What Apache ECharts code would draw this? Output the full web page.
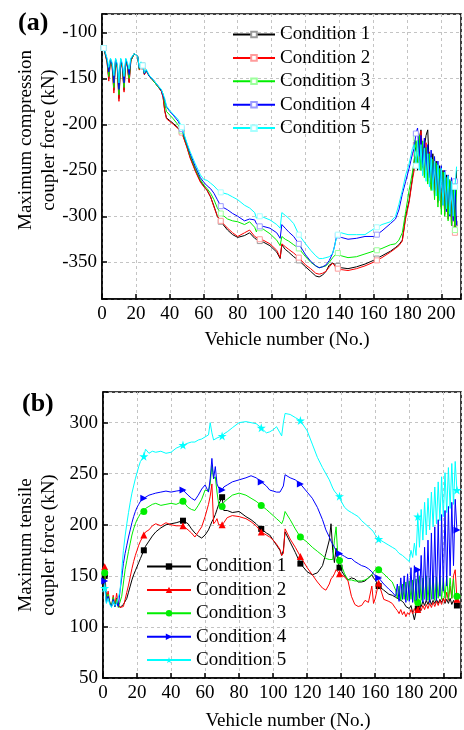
<!DOCTYPE html>
<html><head><meta charset="utf-8">
<script src="https://cdn.jsdelivr.net/npm/echarts@6/dist/echarts.min.js"></script>
<style>html,body{margin:0;padding:0;background:#fff}#c{width:464px;height:730px}</style>
</head><body><div id="c"></div>
<script>
const conditions = ['Condition 1','Condition 2','Condition 3','Condition 4','Condition 5'];
const xTicks = [0,20,40,60,80,100,120,140,160,180,200];
const yTicksA = [-350,-300,-250,-200,-150,-100];
const yTicksB = [50,100,150,200,250,300];
const markerVehicles = [1,24,47,70,93,116,139,162,185,208];

// Panel (a): maximum compression coupler force (kN)
const xA = [1,2,3,4,5,6,7,8,9,10,11,12,13,14,15,16,17,18,19,20,21,22,23,24,25,26,
28,30,33,35,36,37,38,40,42,45,47,
50,52,55,58,60,62,64,66,68,70,
74,77,80,84,87,90,91,92,93,95,
99,103,105,106,108,110,113,116,120,123,
126,128,130,132,134,136,137,138,139,141,
145,150,155,160,162,165,170,173,175,177,
179,181,183,
184,185,186,187,188,189,190,191,192,193,194,195,196,197,198,199,200,201,202,203,204,205,206,207,208,209];

const compC1 = [-117,-124,-132,-150,-130,-137,-163,-130,-138,-172,-131,-138,-163,-130,-137,-154,-131,-127,-123,-123,-126,-140,-133,-137,-146,-141,
-148,-152,-159,-164,-170,-185,-193,-196,-199,-204,-208,
-224,-236,-250,-262,-267,-272,-279,-289,-300,-306,
-315,-320,-323,-321,-318,-324,-325,-326,-327,-328,
-332,-339,-346,-331,-336,-339,-344,-348,-355,-360,
-365,-366,-364,-360,-353,-351,-352,-353,-354,-356,
-357,-355,-352,-348,-346,-343,-338,-334,-331,-326,
-300,-283,-258,
-240,-222,-250,-215,-206,-248,-225,-212,-206,-250,-265,-232,-270,-240,-280,-245,-290,-250,-292,-255,-298,-262,-300,-265,-308,-250];
const compC2 = [-117,-125,-133,-153,-130,-138,-166,-131,-139,-175,-132,-139,-165,-131,-138,-155,-131,-127,-123,-123,-126,-141,-133,-137,-146,-142,
-148,-152,-159,-164,-171,-186,-194,-197,-200,-205,-209,
-225,-237,-251,-263,-268,-272,-279,-290,-300,-305,
-313,-318,-322,-318,-315,-322,-323,-324,-325,-326,
-330,-337,-345,-330,-333,-336,-340,-345,-353,-357,
-362,-363,-362,-360,-355,-351,-353,-356,-357,-358,
-359,-357,-354,-350,-348,-345,-339,-335,-332,-327,
-302,-285,-260,
-250,-232,-215,-245,-207,-230,-255,-220,-262,-230,-270,-238,-278,-245,-285,-250,-292,-255,-298,-258,-303,-262,-310,-268,-318,-300];
const compC3 = [-117,-124,-131,-148,-129,-136,-160,-130,-137,-168,-130,-137,-160,-130,-136,-150,-130,-127,-123,-123,-126,-140,-133,-136,-145,-141,
-148,-152,-159,-163,-167,-178,-186,-190,-194,-201,-207,
-222,-234,-248,-260,-266,-270,-275,-282,-291,-297,
-303,-305,-306,-309,-306,-312,-317,-312,-313,-314,
-319,-326,-332,-322,-325,-327,-331,-335,-344,-350,
-354,-356,-355,-354,-350,-345,-343,-341,-340,-343,
-345,-344,-341,-338,-337,-335,-331,-330,-326,-318,
-295,-272,-252,
-240,-215,-246,-212,-250,-218,-258,-225,-265,-232,-272,-238,-282,-242,-290,-248,-298,-252,-300,-258,-305,-260,-310,-265,-315,-270];
const compC4 = [-117,-123,-130,-143,-129,-135,-155,-129,-136,-162,-129,-136,-155,-129,-135,-146,-129,-126,-123,-123,-126,-139,-133,-136,-145,-141,
-148,-151,-158,-163,-165,-174,-181,-186,-190,-197,-205,
-221,-232,-246,-258,-263,-267,-270,-275,-282,-289,
-293,-297,-300,-305,-303,-304,-308,-310,-311,-311,
-313,-318,-324,-309,-313,-317,-322,-330,-342,-349,
-354,-356,-355,-353,-348,-340,-333,-324,-321,-323,
-325,-324,-322,-322,-320,-316,-308,-303,-293,-276,
-262,-248,-232,
-226,-210,-204,-235,-212,-245,-215,-250,-222,-258,-228,-265,-235,-272,-240,-280,-245,-288,-250,-295,-255,-300,-258,-305,-262,-310];
const compC5 = [-117,-122,-128,-138,-128,-133,-147,-128,-134,-155,-128,-134,-148,-128,-133,-140,-128,-126,-123,-123,-126,-138,-132,-136,-144,-140,
-147,-151,-158,-162,-164,-172,-180,-185,-189,-195,-203,
-220,-230,-243,-255,-260,-261,-264,-267,-271,-274,
-276,-279,-282,-288,-291,-296,-302,-300,-300,-301,
-304,-309,-313,-296,-299,-302,-308,-320,-330,-337,
-343,-346,-346,-345,-344,-340,-333,-325,-320,-318,
-320,-320,-320,-314,-312,-309,-306,-300,-287,-272,
-255,-243,-226,
-222,-245,-218,-250,-222,-256,-226,-262,-232,-268,-236,-272,-240,-278,-244,-283,-248,-288,-252,-292,-256,-298,-262,-300,-268,-246];

// Panel (b): maximum tensile coupler force (kN)
const xB = [1,2,3,4,5,6,7,8,9,10,11,12,13,14,15,16,17,18,19,20,21,22,
24,25,27,29,31,34,37,40,43,47,
50,52,54,56,58,60,62,63,64,65,66,67,68,70,71,73,76,80,84,87,
90,93,96,98,100,102,104,105,106,107,
110,113,116,120,123,126,129,131,133,134,
135,136,137,138,139,142,144,146,148,150,
152,154,156,158,159,160,162,165,168,170,
172,173,174,175,176,177,178,179,180,181,182,183,184,185,186,187,188,189,190,191,192,193,194,195,196,197,198,199,200,201,202,203,204,205,206,207,208];

const tenC1 = [150,126,130,124,120,126,120,128,121,119,120,122,123,128,134,140,146,151,155,159,163,167,
175,179,184,189,193,197,200,201,202,204,
201,196,192,189,187,190,195,199,203,206,210,215,220,227,214,214,212,213,208,205,
201,196,192,190,185,180,175,170,175,193,
183,173,162,154,151,153,160,172,185,201,
175,163,177,165,158,150,146,148,147,144,
144,145,148,151,148,146,140,136,132,131,
129,128,127,126,125,123,120,121,118,121,114,107,115,118,124,120,125,121,126,122,127,122,126,123,127,123,127,124,128,123,127,123,128,122,126,122,121];
const tenC2 = [159,127,135,124,120,131,121,133,122,119,118,120,127,134,141,149,157,164,170,175,180,184,
190,193,195,199,201,199,202,200,199,199,
195,192,188,193,198,208,220,228,240,201,203,206,200,200,202,207,209,208,206,203,
199,193,190,188,185,181,176,170,172,196,
186,178,169,158,151,144,138,136,142,147,
149,152,156,154,152,149,145,130,122,120,
121,126,124,140,123,128,143,127,125,123,
118,116,113,117,112,115,110,114,112,117,113,118,114,117,120,116,121,117,122,118,123,119,124,120,125,121,126,122,128,124,134,126,140,128,150,156,127];
const tenC3 = [153,125,132,124,121,129,120,127,119,119,130,143,156,165,174,182,190,196,201,205,208,211,
213,216,218,220,221,219,220,221,220,223,
217,215,214,219,225,234,233,240,258,245,247,232,220,218,222,225,229,231,229,226,
223,219,215,212,209,206,203,201,205,213,
205,196,188,183,178,174,170,167,166,165,
166,185,198,170,165,152,146,146,145,145,
145,146,148,151,154,156,156,152,147,144,
136,128,140,126,142,127,144,126,145,127,146,125,147,124,150,126,148,127,150,126,148,127,150,126,149,128,150,127,148,128,150,127,148,128,147,127,130];
const tenC4 = [145,124,130,123,120,127,120,124,120,135,148,162,172,180,188,195,202,208,213,217,220,223,
226,227,229,230,231,232,233,232,233,234,
229,226,224,229,235,239,232,245,265,245,257,240,236,234,237,239,242,244,246,248,
246,242,238,234,233,232,232,233,238,249,
246,244,240,232,226,217,205,195,188,184,
181,178,175,173,172,169,167,167,164,162,
160,159,157,154,152,150,148,142,137,134,
130,142,125,148,127,150,124,152,125,158,124,160,126,156,128,170,124,178,126,185,124,192,127,198,126,205,130,210,135,214,140,218,150,222,160,225,195];
const tenC5 = [138,123,128,122,119,125,121,123,124,135,155,175,189,201,212,222,231,238,245,251,257,262,
267,274,270,272,271,272,270,271,275,278,
280,281,281,283,284,286,288,300,290,283,284,285,286,287,289,291,295,300,301,300,
299,295,290,291,293,296,290,287,300,309,
308,305,302,292,279,266,256,250,244,240,
236,233,231,229,228,217,214,212,210,208,
204,201,198,195,193,190,186,183,180,178,
176,174,172,171,170,169,167,166,164,175,168,182,170,208,178,215,185,222,190,226,195,232,198,237,201,242,204,247,208,251,212,256,216,260,220,262,234];

const lineColors = ['#000000','#ff0000','#00ee00','#0000ff','#00ffff'];
const lightColors = ['#9a9a9a','#ff9c9c','#9cff9c','#9c9cff','#a8ffff'];
const FONT = 'Liberation Serif';
const markerSet = new Set(markerVehicles);
const starPath = 'path://M50,0 L61,35 L98,35 L68,57 L79,91 L50,70 L21,91 L32,57 L2,35 L39,35 Z';
const bSymbols = ['rect','triangle','circle','triangle',starPath];
const bSizes = [6,7,7,7,9];
const bRotate = [0,0,0,-90,0];

function pairs(xs, ys){
  return xs.map((x,i)=> markerSet.has(x) ? [x, ys[i]] : {value:[x, ys[i]], symbol:'none'});
}

const compSeries = [compC1,compC2,compC3,compC4,compC5];
const tenSeries = [tenC1,tenC2,tenC3,tenC4,tenC5];

const series = [];
compSeries.forEach((ys,i)=>{
  series.push({
    type:'line', name: conditions[i], xAxisIndex:0, yAxisIndex:0,
    data: pairs(xA, ys), symbol:'rect', symbolSize:5, showAllSymbol:true,
    lineStyle:{color: lineColors[i], width:1},
    itemStyle:{color:'#ffffff', borderColor: lightColors[i], borderWidth:1},
    emphasis:{disabled:true}, z: 2+i
  });
});
tenSeries.forEach((ys,i)=>{
  series.push({
    type:'line', name: 'b:' + conditions[i], xAxisIndex:1, yAxisIndex:1,
    data: pairs(xB, ys), symbol: bSymbols[i], symbolSize: bSizes[i], symbolRotate: bRotate[i], showAllSymbol:true,
    lineStyle:{color: lineColors[i], width:1},
    itemStyle:{color: lineColors[i]},
    emphasis:{disabled:true}, z: 2+i
  });
});

const axisLineStyle = {color:'#000', width:1.5};
const splitStyle = {show:true, lineStyle:{color:'#c4c4c4', type:[3,3], width:1}};
function xAxisDef(gi, max){
  return {type:'value', gridIndex:gi, min:0, max:max, interval:20,
    axisLine:{show:true, onZero:false, lineStyle:axisLineStyle},
    axisTick:{show:true, inside:true, length:5, lineStyle:axisLineStyle},
    axisLabel:{color:'#000', fontFamily:FONT, fontSize:19, margin:6,
      formatter: v => xTicks.includes(v) ? String(v) : ''},
    splitLine: splitStyle};
}

const chart = echarts.init(document.getElementById('c'), null, {renderer:'canvas'});
chart.setOption({
  animation:false,
  backgroundColor:'#ffffff',
  grid:[
    {left:102, top:14, right:-3, height:285, show:true, borderColor:'#000', borderWidth:1.5, backgroundColor:'transparent'},
    {left:103, top:392, right:-3, height:286, show:true, borderColor:'#000', borderWidth:1.5, backgroundColor:'transparent'}
  ],
  xAxis:[ xAxisDef(0, 211.6), xAxisDef(1, 210.4) ],
  yAxis:[
    {type:'value', gridIndex:0, min:-390, max:-80, minInterval:50, maxInterval:50, splitNumber:6,
      axisLine:{show:true, lineStyle:axisLineStyle},
      axisTick:{show:true, inside:true, length:5, lineStyle:axisLineStyle},
      axisLabel:{color:'#000', fontFamily:FONT, fontSize:19, margin:5,
        formatter: v => yTicksA.includes(v) ? String(v) : ''},
      splitLine: splitStyle},
    {type:'value', gridIndex:1, min:50, max:330, interval:50,
      axisLine:{show:true, lineStyle:axisLineStyle},
      axisTick:{show:true, inside:true, length:5, lineStyle:axisLineStyle},
      axisLabel:{color:'#000', fontFamily:FONT, fontSize:19, margin:5,
        formatter: v => yTicksB.includes(v) ? String(v) : ''},
      splitLine: splitStyle}
  ],
  legend:[
    {orient:'vertical', left:232, top:25, padding:0, itemWidth:42, itemHeight:7, itemGap:4.4, selectedMode:false,
      data: conditions.slice(),
      textStyle:{fontFamily:FONT, fontSize:19, color:'#000', lineHeight:19}},
    {orient:'vertical', left:146, top:557, padding:0, itemWidth:44, itemHeight:8, itemGap:4.4, selectedMode:false,
      data: conditions.map(c=>'b:'+c),
      formatter: n => n.replace(/^b:/,''),
      textStyle:{fontFamily:FONT, fontSize:19, color:'#000', lineHeight:19}}
  ],
  graphic:[
    {type:'text', left:18, top:10, style:{text:'(a)', font:'bold 26px "Liberation Serif"', fill:'#000'}},
    {type:'text', left:22, top:391, style:{text:'(b)', font:'bold 26px "Liberation Serif"', fill:'#000'}},
    {type:'text', x:26, y:140, rotation:Math.PI/2, style:{text:'Maximum compression', font:'19px "Liberation Serif"', fill:'#000', align:'center', verticalAlign:'middle'}},
    {type:'text', x:49, y:140, rotation:Math.PI/2, style:{text:'coupler force (kN)', font:'19px "Liberation Serif"', fill:'#000', align:'center', verticalAlign:'middle'}},
    {type:'text', x:26, y:545, rotation:Math.PI/2, style:{text:'Maximum tensile', font:'19px "Liberation Serif"', fill:'#000', align:'center', verticalAlign:'middle'}},
    {type:'text', x:49, y:545, rotation:Math.PI/2, style:{text:'coupler force (kN)', font:'19px "Liberation Serif"', fill:'#000', align:'center', verticalAlign:'middle'}},
    {type:'text', x:287, y:340, style:{text:'Vehicle number (No.)', font:'19px "Liberation Serif"', fill:'#000', align:'center', verticalAlign:'middle'}},
    {type:'text', x:288, y:721, style:{text:'Vehicle number (No.)', font:'19px "Liberation Serif"', fill:'#000', align:'center', verticalAlign:'middle'}}
  ],
  series: series
});
</script>
</body></html>
